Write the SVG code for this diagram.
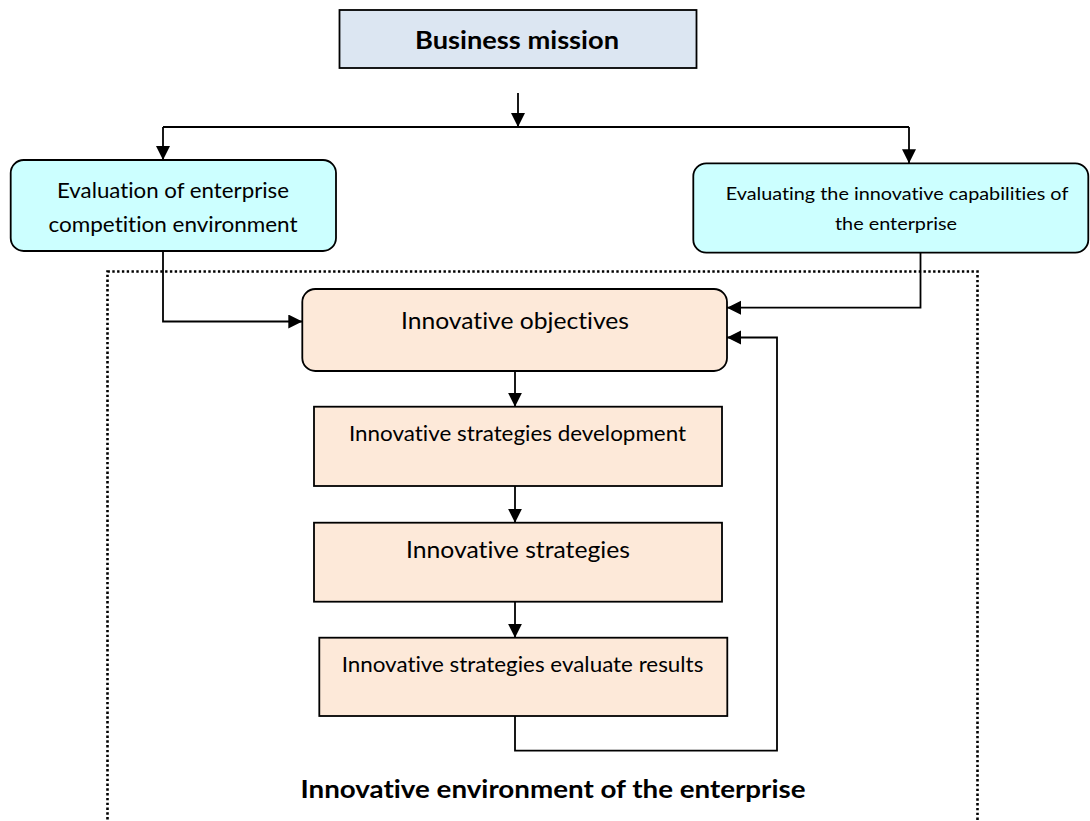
<svg xmlns="http://www.w3.org/2000/svg" width="1090" height="821" viewBox="0 0 1090 821">
<style>
  .box { stroke: #000; stroke-width: 1.8; }
  .blue { fill: #dce6f2; }
  .cyan { fill: #ccffff; }
  .peach { fill: #fde9d9; }
  .t { font-family: Lato, "Open Sans", "Liberation Sans", sans-serif; fill: #000; text-anchor: middle; font-variant-ligatures: none; font-feature-settings: "liga" 0, "dlig" 0; }
  .b { font-weight: bold; }
  .conn { fill: none; stroke: #000; stroke-width: 1.8; }
</style>
<defs>
  <marker id="arr" markerUnits="userSpaceOnUse" markerWidth="16" markerHeight="16" refX="14" refY="7" orient="auto">
    <path d="M0,0 L14,7 L0,14 z" fill="#000"/>
  </marker>
</defs>
<rect x="0" y="0" width="1090" height="821" fill="#fff"/>

<g id="environment">
  <rect x="107.5" y="271.5" width="870" height="580" fill="none" stroke="#000" stroke-width="2.6" stroke-dasharray="2.4,2.4"/>
  <text class="t b" x="553" y="798" font-size="25.5" textLength="505" lengthAdjust="spacingAndGlyphs">Innovative environment of the enterprise</text>
</g>

<g id="business-mission">
  <rect class="box blue" x="339.5" y="10" width="357" height="58"/>
  <text class="t b" x="517" y="49" font-size="25.5" textLength="204" lengthAdjust="spacingAndGlyphs">Business mission</text>
</g>

<g id="competition-env">
  <rect class="box cyan" x="10.7" y="160" width="325.3" height="91" rx="13"/>
  <text class="t" x="173" y="198" font-size="21" textLength="232" lengthAdjust="spacingAndGlyphs">Evaluation of enterprise</text>
  <text class="t" x="173" y="231.5" font-size="21" textLength="249" lengthAdjust="spacingAndGlyphs">competition environment</text>
</g>

<g id="innovative-capabilities">
  <rect class="box cyan" x="693.3" y="163.3" width="395" height="89.4" rx="13"/>
  <text class="t" x="897" y="200" font-size="18" textLength="342.7" lengthAdjust="spacingAndGlyphs">Evaluating the innovative capabilities of</text>
  <text class="t" x="896" y="230" font-size="18" textLength="122" lengthAdjust="spacingAndGlyphs">the enterprise</text>
</g>

<g id="objectives">
  <rect class="box peach" x="302.3" y="289" width="424.7" height="82" rx="13"/>
  <text class="t" x="515" y="329" font-size="23" textLength="228" lengthAdjust="spacingAndGlyphs">Innovative objectives</text>
</g>

<g id="strategies-development">
  <rect class="box peach" x="314" y="406.7" width="408" height="79.3"/>
  <text class="t" x="517.5" y="440.7" font-size="21" textLength="337" lengthAdjust="spacingAndGlyphs">Innovative strategies development</text>
</g>

<g id="strategies">
  <rect class="box peach" x="314" y="522.7" width="408" height="79"/>
  <text class="t" x="518" y="558.3" font-size="23" textLength="224" lengthAdjust="spacingAndGlyphs">Innovative strategies</text>
</g>

<g id="evaluate-results">
  <rect class="box peach" x="319.3" y="637.7" width="408" height="78.3"/>
  <text class="t" x="522.5" y="671.7" font-size="20.5" textLength="361.7" lengthAdjust="spacingAndGlyphs">Innovative strategies evaluate results</text>
</g>

<g id="connectors">
  <path class="conn" d="M518,93 L518,127" marker-end="url(#arr)"/>
  <path class="conn" d="M163,127 L909,127"/>
  <path class="conn" d="M163,127 L163,160" marker-end="url(#arr)"/>
  <path class="conn" d="M909,127 L909,163.3" marker-end="url(#arr)"/>
  <path class="conn" d="M163,251 L163,321.5 L302.3,321.5" marker-end="url(#arr)"/>
  <path class="conn" d="M920.5,252.7 L920.5,307.7 L727,307.7" marker-end="url(#arr)"/>
  <path class="conn" d="M515,716 L515,750.7 L777,750.7 L777,337.5 L727,337.5" marker-end="url(#arr)"/>
  <path class="conn" d="M515,371 L515,406.7" marker-end="url(#arr)"/>
  <path class="conn" d="M515,486 L515,522.7" marker-end="url(#arr)"/>
  <path class="conn" d="M515,601.7 L515,637.7" marker-end="url(#arr)"/>
</g>
</svg>
